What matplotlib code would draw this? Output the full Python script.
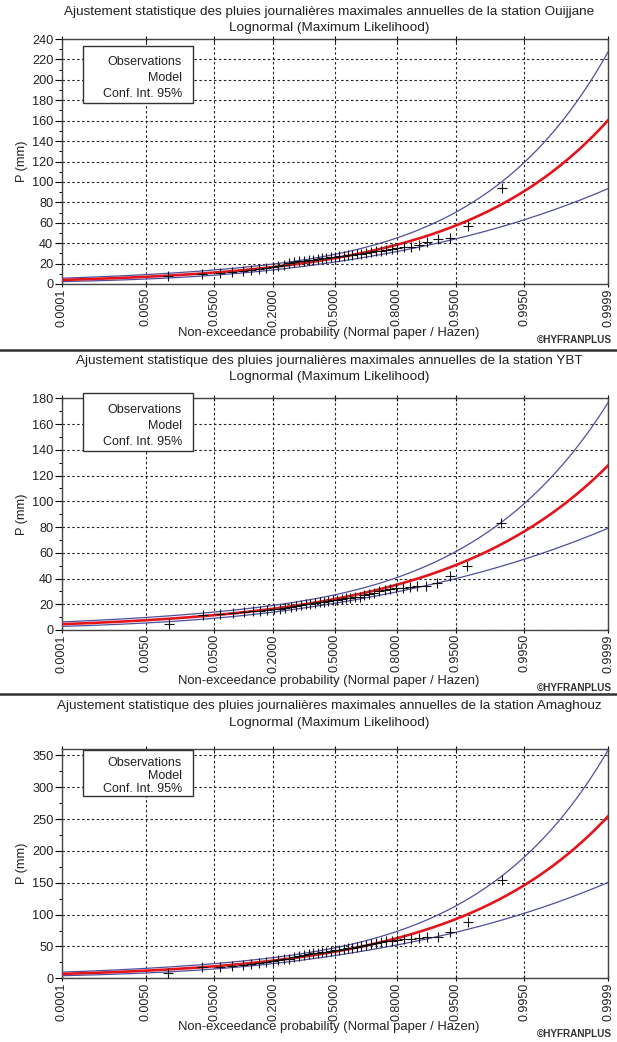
import numpy as np
import matplotlib
matplotlib.use("Agg")
import matplotlib.pyplot as plt
from matplotlib.patches import Rectangle
from matplotlib.lines import Line2D
from matplotlib.ticker import MultipleLocator
from statistics import NormalDist

plt.rcParams['font.family'] = ['Liberation Sans', 'DejaVu Sans']

W, H = 617, 1042

# ---- data -------------------------------------------------------------
stations = ["Ouijjane", "YBT", "Amaghouz"]
prob_ticks = [0.0001, 0.0050, 0.0500, 0.2000, 0.5000, 0.8000, 0.9500, 0.9950, 0.9999]
prob_labels = ["0.0001", "0.0050", "0.0500", "0.2000", "0.5000",
               "0.8000", "0.9500", "0.9950", "0.9999"]

# annual maximum daily rainfall (mm), sorted
obs_ouijjane = [8, 10, 11, 12, 13, 14, 15, 16, 17, 18, 19, 21, 22, 22.5, 23,
                23.5, 24, 24.5, 25, 25.5, 26, 26.5, 27, 27.5, 28, 28.5, 29,
                29.5, 30, 31, 32, 32.5, 33, 34, 35, 36, 36, 38, 41.5, 44, 45,
                57, 94]
obs_ybt = [5, 12, 12.5, 13, 14, 14.5, 15, 15.5, 16, 16.5, 17, 18, 19, 19.5,
           20, 20.5, 21, 21.5, 22, 22.5, 23, 23.5, 24, 24.5, 25, 25.5, 26, 27,
           28, 29, 30, 31, 32, 32.5, 33, 33.5, 34, 34.5, 36.5, 42, 50, 83]
obs_amaghouz = [8, 17, 18, 19, 21, 23, 24, 25, 27, 29, 30, 31, 33, 35, 37, 38,
                39, 40, 41, 42, 43, 44, 45, 46, 47, 48, 49, 50, 52, 54, 56, 57,
                58, 59, 60, 61, 62, 63, 64.5, 65.5, 73, 89, 155]

# lognormal fit (maximum likelihood): median of P and sigma of ln P
median_ouijjane, sigma_ouijjane = 25.3, 0.497
median_ybt, sigma_ybt = 24.1, 0.449
median_amaghouz, sigma_amaghouz = 41.8, 0.486

y_max = [240, 180, 360]
y_step = [20, 20, 50]

# ---- layout (pixels) --------------------------------------------------
panel_px = [
    dict(top=39.0, bottom=284.0, t1=12.5, t2=27.5, xl=333, cr=340, legend=(82.7, 45.7, 193.3, 102.7)),
    dict(top=398.3, bottom=630.0, t1=361, t2=377, xl=681, cr=688, legend=(82.7, 393.3, 193.3, 450.7)),
    dict(top=749.0, bottom=978.3, t1=706.5, t2=723, xl=1027, cr=1034, legend=(82.7, 749.5, 193.3, 796.0)),
]
sep_px = [350, 694]
ax_left, ax_right = 61.7, 608.3

nd = NormalDist()
zq = np.vectorize(nd.inv_cdf)

RED = "#e3141b"
BLUE = "#4f4f9e"
GRID = "#222222"
TXT = "#222222"

fig = plt.figure(figsize=(W / 100, H / 100), dpi=100)


def fx(x):
    return x / W


def fy(y):
    return 1 - y / H


obs_all = [obs_ouijjane, obs_ybt, obs_amaghouz]
fits = [(median_ouijjane, sigma_ouijjane), (median_ybt, sigma_ybt),
        (median_amaghouz, sigma_amaghouz)]

z_lo, z_hi = zq(0.0001), zq(0.9999)

for k, (name, obs, (med, sig), lay) in enumerate(zip(stations, obs_all, fits, panel_px)):
    ax = fig.add_axes([fx(ax_left), fy(lay["bottom"]),
                       (ax_right - ax_left) / W, (lay["bottom"] - lay["top"]) / H])
    obs = np.sort(np.asarray(obs, float))
    n = len(obs)
    # Hazen plotting positions
    p_obs = (np.arange(1, n + 1) - 0.5) / n
    z_obs = zq(p_obs)

    # model curve and 95% confidence band
    z = np.linspace(z_lo, z_hi, 300)
    mu = np.log(med)
    xt = np.exp(mu + sig * z)
    sd = xt * sig * np.sqrt((1 + z ** 2 / 2) / n)
    ax.plot(z, xt + 1.96 * sd, color=BLUE, lw=0.9, zorder=3)
    ax.plot(z, xt - 1.96 * sd, color=BLUE, lw=0.9, zorder=3)
    ax.plot(z, xt, color=RED, lw=1.9, zorder=4)
    ax.plot(z_obs, obs, ls="none", marker="+", ms=7.5, mew=0.8, color="#111111", zorder=5)

    ax.set_xlim(z_lo, z_hi)
    ax.set_ylim(0, y_max[k])
    ax.set_xticks(zq(prob_ticks))
    ax.set_xticklabels(prob_labels, rotation=90, fontsize=9.0, color=TXT)
    ax.yaxis.set_major_locator(MultipleLocator(y_step[k]))
    ax.yaxis.set_minor_locator(MultipleLocator(y_step[k] / 2))
    ax.tick_params(axis="y", labelsize=9.2, labelcolor=TXT, length=5, width=0.8,
                   direction="out", pad=1)
    ax.tick_params(axis="y", which="minor", length=2.5, width=0.7, direction="out")
    ax.tick_params(axis="x", length=4, width=0.8, direction="inout", top=True, pad=1)
    ax.grid(True, which="major", color=GRID, ls=(0, (2.2, 2.2)), lw=0.8)
    for s in ax.spines.values():
        s.set_color("#444444")
        s.set_linewidth(1.0)
    ax.set_ylabel("P (mm)", fontsize=9.2, color=TXT, labelpad=3)

    # legend box (text only)
    lx0, ly0, lx1, ly1 = lay["legend"]
    fig.patches.append(Rectangle((fx(lx0), fy(ly1)), (lx1 - lx0) / W, (ly1 - ly0) / H,
                                 transform=fig.transFigure, facecolor="white",
                                 edgecolor="#333333", lw=1.0, zorder=10))
    hgt = ly1 - ly0
    for j, t in enumerate(["Observations", "Model", "Conf. Int. 95%"]):
        fig.text(fx(lx1 - 11.5), fy(ly0 + hgt * (0.29 + 0.28 * j)), t, ha="right",
                 va="center", fontsize=9.0, color=TXT, zorder=11)

    cx = fx((ax_left + ax_right) / 2 - 6)
    fig.text(cx, fy(lay["t1"]),
             f"Ajustement statistique des pluies journalières maximales annuelles de la station {name}",
             ha="center", va="center", fontsize=9.7, color=TXT)
    fig.text(cx, fy(lay["t2"]), "Lognormal (Maximum Likelihood)", ha="center",
             va="center", fontsize=9.7, color=TXT)
    fig.text(cx, fy(lay["xl"]), "Non-exceedance probability (Normal paper / Hazen)",
             ha="center", va="center", fontsize=9.4, color=TXT)
    fig.text(fx(612), fy(lay["cr"]), "©HYFRANPLUS", ha="right", va="center",
             fontsize=7.2, fontweight="bold", color="#333333")

for yy in sep_px:
    fig.lines.append(Line2D([0, 1], [fy(yy), fy(yy)], transform=fig.transFigure,
                            color="#333333", lw=1.8))

fig.savefig("out.png", dpi=100)
